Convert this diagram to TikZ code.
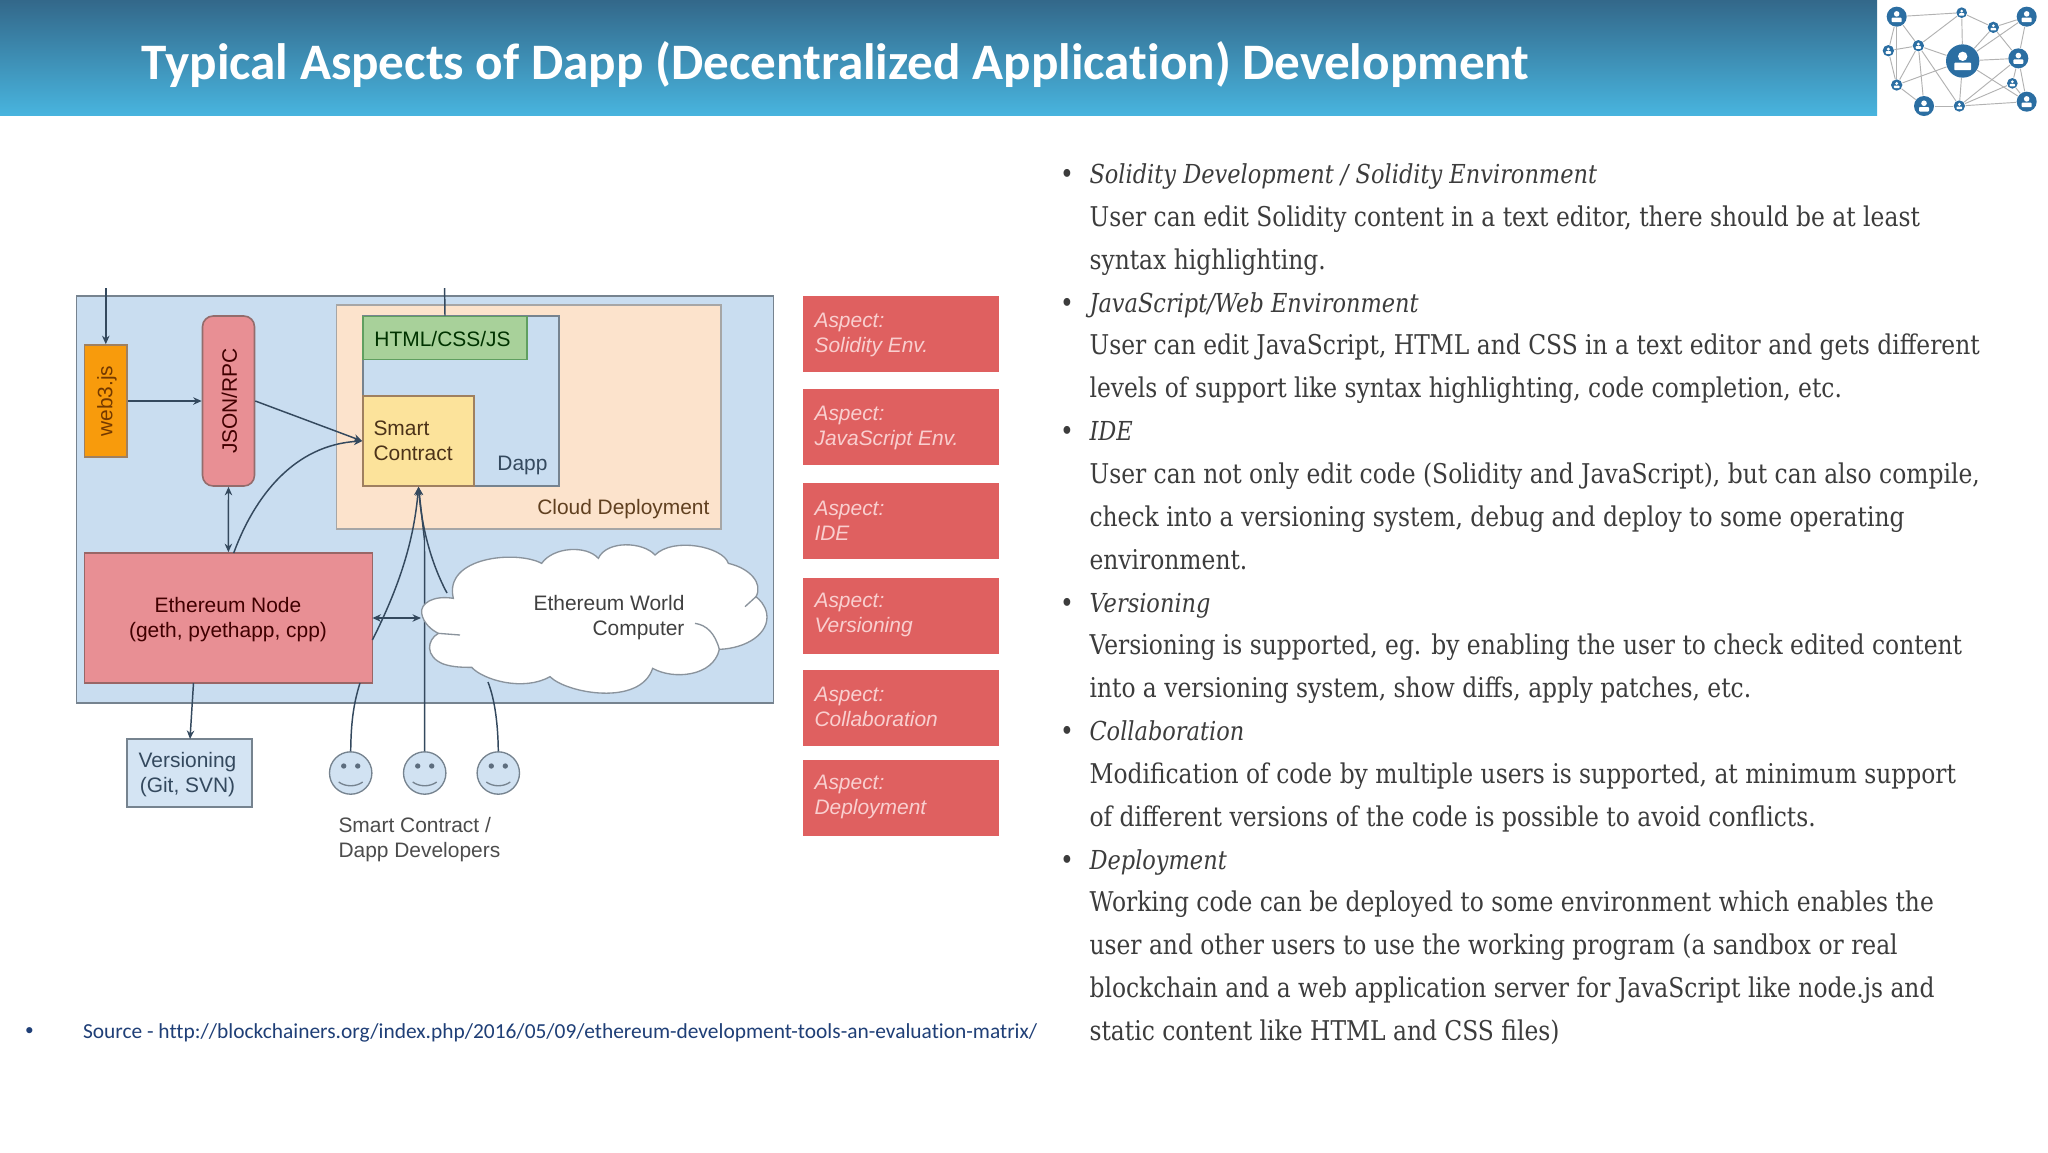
\documentclass[tikz,border=0pt]{standalone}
\usepackage{fontspec}
\usetikzlibrary{arrows.meta,calc}
\setmainfont{Liberation Sans}
\newfontfamily\titlefont[Ligatures=NoCommon]{Carlito}
\newfontfamily\rf[FakeStretch=0.86]{DejaVu Serif}
\definecolor{hdtop}{HTML}{33688A}
\definecolor{hdbot}{HTML}{48B4DE}
\definecolor{lineblue}{HTML}{34495E}
\definecolor{outerf}{HTML}{C9DDF0}
\definecolor{cloudf}{HTML}{FCE3CC}
\definecolor{htmlf}{HTML}{A8D19A}
\definecolor{scf}{HTML}{FCE39B}
\definecolor{ethf}{HTML}{E88F94}
\definecolor{webf}{HTML}{F89B0C}
\definecolor{aspf}{HTML}{DF6060}
\definecolor{aspt}{HTML}{F9CFCF}
\definecolor{logob}{HTML}{2B6EA2}
\definecolor{srct}{HTML}{1F3F77}
\definecolor{bodyt}{HTML}{3C3C3C}
\definecolor{edgeg}{HTML}{76838F}
\definecolor{cloudg}{HTML}{8A939C}
\tikzset{
  sz/.style 2 args={minimum width=#1*0.375pt,minimum height=#2*0.375pt,inner sep=0pt},
  bx/.style={draw=#1,line width=0.6pt},
  lbl/.style={font=\fontsize{7.85}{9.4}\selectfont,inner sep=0pt},
  conn/.style={draw=lineblue,line width=0.55pt},
  tipend/.style={-{Stealth[length=3.2pt,width=2.8pt]}},
  tipboth/.style={{Stealth[length=3.2pt,width=2.8pt]}-{Stealth[length=3.2pt,width=2.8pt]}},
  aspect/.style={fill=aspf,sz={196}{76}},
  asptxt/.style={lbl,font=\fontsize{7.85}{9.4}\selectfont\itshape,text=aspt,align=left,anchor=west},
  face/.style={circle,draw=edgeg,line width=0.5pt,fill=outerf!85!white,minimum size=15.9pt,inner sep=0pt},
  rline/.style={anchor=base west,inner sep=0pt,text=bodyt,font=\rf\fontsize{10.2}{12}\selectfont},
  lognet/.style={draw=gray!60,line width=0.35pt},
}
\newcommand{\rl}[2]{\pgfmathsetmacro{\by}{183.5+42.85*#1}\node[rline] (r#1) at (1089,\by) {#2};}
\newcommand{\rh}[2]{\pgfmathsetmacro{\by}{183.5+42.85*#1}\node[rline,font=\rf\fontsize{9.8}{12}\selectfont\itshape] (r#1) at (1089,\by) {#2};}
\newcommand{\rb}[1]{\pgfmathsetmacro{\by}{183.5+42.85*#1}\node[rline,anchor=base] (b#1) at (1067,\by) {•};}
\begin{document}
\begin{tikzpicture}[x=0.375pt,y=-0.375pt]
\useasboundingbox (0,0) rectangle (2048,1152);
\fill[white] (0,0) rectangle (2048,1152);
% header
\shade[top color=hdtop,bottom color=hdbot] (0,0) rectangle (1877,115);
\node[anchor=base west,inner sep=0pt,text=white,font=\titlefont\bfseries\fontsize{19.19}{22}\selectfont] (title) at (141,79.5) {Typical Aspects of Dapp (Decentralized Application) Development};
% logo
\begin{scope}[shift={(1860,0)},x=0.125pt,y=-0.125pt]
\foreach \n/\xx/\yy/\rr in {a/110/50/30,b/305/38/16,c/400/82/17,d/500/50/30,e/175/137/17,f/85/152/17,g/475/175/30,h/110/255/17,i/457/250/16,j/192/318/30,k/298/318/17,l/500/305/30,m/308/183/50}{
  \node[circle,fill=logob,minimum size=\rr*0.25pt,inner sep=0pt] (L\n) at (\xx,\yy) {};
  \fill[white] (\xx,\yy-0.28*\rr) circle ({0.28*\rr*0.125pt});
  \fill[white,rounded corners=0.3pt] (\xx-0.5*\rr,\yy+0.1*\rr) rectangle (\xx+0.5*\rr,\yy+0.55*\rr);
}
\foreach \p/\q in {a/b,a/e,a/f,a/h,b/e,b/c,b/m,c/d,c/m,c/g,d/g,e/f,e/h,e/j,e/k,e/m,f/h,h/j,h/m,j/k,k/l,k/m,k/i,k/g,m/g,m/l,g/i,g/l,i/l,d/m}{
  \draw[lognet] (L\p) -- (L\q);
}
\end{scope}
% diagram boxes
\node[bx=edgeg,fill=outerf,sz={697}{407}] (outer) at (425,499.5) {};
\node[bx=gray!70,fill=cloudf,sz={384.5}{224}] (cloudep) at (528.7,417) {};
\node[bx=edgeg,fill=outerf,sz={196}{170}] (dapp) at (461,401) {};
\node[bx=green!25!gray,fill=htmlf,sz={164}{43}] (html) at (445,338) {};
\node[bx=brown!50!gray,fill=scf,sz={111}{90}] (sc) at (418.5,441) {};
\node[bx=brown!50!gray,fill=webf,rotate=90,sz={112}{42.5}] (web) at (105.8,401) {};
\node[bx=red!15!gray,fill=ethf,rounded corners=4pt,rotate=90,sz={170}{52}] (json) at (228.5,401) {};
\node[bx=red!20!gray,fill=ethf,sz={288}{130}] (eth) at (228.4,618) {};
\node[bx=edgeg,fill=outerf!80!white,sz={125}{68}] (vers) at (189.5,773) {};
\node[face] (s1) at (350.7,773) {};
\node[face] (s2) at (424.7,773) {};
\node[face] (s3) at (498.3,773) {};
\foreach \s in {s1,s2,s3}{
  \fill[lineblue!80] ($(\s)+(-7,-7)$) circle (1pt);
  \fill[lineblue!80] ($(\s)+(7,-7)$) circle (1pt);
  \draw[edgeg,line width=0.5pt] ($(\s)+(-12,9)$) .. controls ($(\s)+(-5,14)$) and ($(\s)+(5,14)$) .. ($(\s)+(12,9)$);
}
% connector end points
\coordinate (webtop) at (105.8,288);
\coordinate (htmltop) at (444.6,288);
\coordinate (ethtopc) at (233.7,553);
\coordinate (ethrc) at (372.4,640);
\coordinate (cloudc) at (447,593);
\coordinate (ethb1) at (193.5,683);
\coordinate (ethb2) at (360,683);
\coordinate (cloudb) at (488,682);
\coordinate (ethr) at (372.4,618);
\coordinate (cloudl) at (421,618);
\coordinate (versin) at (190,739);
% connectors
\draw[conn,tipend] (webtop) -- (web.east);
\draw[conn,tipend] (web.south) -- (json.north);
\draw[conn,tipend] (json.south) -- (sc.west);
\draw[conn,tipboth] (json.west) -- (eth.north);
\draw[conn,tipend] (ethtopc) .. controls (255,495) and (295,445) .. (sc.west);
\draw[conn] (htmltop) -- (html.north);
\draw[conn,tipend] (ethrc) .. controls (400,585) and (414,540) .. (sc.south);
\draw[conn,tipend] (s2.north) -- (424.5,540) -- (sc.south);
\draw[conn,tipend] (cloudc) .. controls (432,565) and (422,530) .. (sc.south);
\draw[conn,tipboth] (ethr) -- (cloudl);
\draw[conn,tipend] (ethb1) -- (versin);
\draw[conn] (s1.north) .. controls (351,725) and (353,705) .. (ethb2);
\draw[conn] (s3.north) .. controls (498,725) and (495,700) .. (cloudb);
% cloud
\begin{scope}[shift={(300,520)},x=0.125pt,y=-0.125pt]
\draw[fill=white,draw=cloudg,line width=0.5pt] (460,235)
 .. controls (400,225) and (360,250) .. (365,280)
 .. controls (370,310) and (395,330) .. (415,340)
 .. controls (380,360) and (375,410) .. (430,432)
 .. controls (460,442) and (490,442) .. (515,442)
 .. controls (550,480) and (670,515) .. (750,470)
 .. controls (800,520) and (1020,560) .. (1058,445)
 .. controls (1120,480) and (1240,470) .. (1258,388)
 .. controls (1340,385) and (1410,340) .. (1400,280)
 .. controls (1395,255) and (1380,240) .. (1368,230)
 .. controls (1390,190) and (1350,145) .. (1285,130)
 .. controls (1270,80) and (1120,50) .. (1065,105)
 .. controls (1030,65) and (920,60) .. (895,115)
 .. controls (860,75) and (760,80) .. (725,130)
 .. controls (650,90) and (430,110) .. (460,235) -- cycle;
\draw[cloudg,line width=0.5pt] (1335,260) -- (1368,230);
\draw[cloudg,line width=0.5pt] (1185,310) .. controls (1220,315) and (1245,340) .. (1258,388);
\draw[cloudg,line width=0.5pt] (415,340) -- (480,345);
\end{scope}
% labels
\node[lbl,rotate=90,text=orange!45!black] (webt) at (107,401) {web3.js};
\node[lbl,rotate=90,text=red!25!black] (jsont) at (229.5,401) {JSON/RPC};
\node[lbl,text=green!20!black] (htmlt) at (442.5,339) {HTML/CSS/JS};
\node[lbl,align=left,anchor=west,text=brown!40!black] (sct) at (373,440.5) {Smart\\Contract};
\node[lbl,text=lineblue] (dappt) at (522.5,465) {Dapp};
\node[lbl,anchor=east,text=brown!50!black] (cdt) at (710,509) {Cloud Deployment};
\node[lbl,align=center,text=red!25!black] (etht) at (228,619.5) {Ethereum Node\\(geth, pyethapp, cpp)};
\node[lbl,align=right,anchor=east,text=black!75] (cloudt) at (685,618) {Ethereum World\\Computer};
\node[lbl,align=center,text=lineblue] (verst) at (187.5,775) {Versioning\\(Git, SVN)};
\node[lbl,align=left,anchor=west,text=black!70] (devt) at (338,840) {Smart Contract /\\Dapp Developers};
% aspects
\node[aspect] (a1) at (901,334) {};
\node[aspect] (a2) at (901,427) {};
\node[aspect] (a3) at (901,521) {};
\node[aspect] (a4) at (901,616) {};
\node[aspect] (a5) at (901,708) {};
\node[aspect] (a6) at (901,798) {};
\node[asptxt] (at1) at (814,334.5) {Aspect:\\Solidity Env.};
\node[asptxt] (at2) at (814,427.5) {Aspect:\\JavaScript Env.};
\node[asptxt] (at3) at (814,520.5) {Aspect:\\IDE};
\node[asptxt] (at4) at (814,614.5) {Aspect:\\Versioning};
\node[asptxt] (at5) at (814,706.5) {Aspect:\\Collaboration};
\node[asptxt] (at6) at (814,797) {Aspect:\\Deployment};
% source
\node[anchor=base,inner sep=0pt,text=srct,font=\titlefont\fontsize{6.5}{10}\selectfont] (srcb) at (29.5,1035) {•};
\node[anchor=base west,inner sep=0pt,text=srct,font=\titlefont\fontsize{8.03}{10}\selectfont] (src) at (82.5,1038.5) {Source - http://blockchainers.org/index.php/2016/05/09/ethereum-development-tools-an-evaluation-matrix/};
% right text
\rb{0}\rb{3}\rb{6}\rb{10}\rb{13}\rb{16}
\rh{0}{Solidity Development / Solidity Environment}
\rl{1}{User can edit Solidity content in a text editor, there should be at least}
\rl{2}{syntax highlighting.}
\rh{3}{JavaScript/Web Environment}
\rl{4}{User can edit JavaScript, HTML and CSS in a text editor and gets different}
\rl{5}{levels of support like syntax highlighting, code completion, etc.}
\rh{6}{IDE}
\rl{7}{User can not only edit code (Solidity and JavaScript), but can also compile,}
\rl{8}{check into a versioning system, debug and deploy to some operating}
\rl{9}{environment.}
\rh{10}{Versioning}
\rl{11}{Versioning is supported, eg. by enabling the user to check edited content}
\rl{12}{into a versioning system, show diffs, apply patches, etc.}
\rh{13}{Collaboration}
\rl{14}{Modification of code by multiple users is supported, at minimum support}
\rl{15}{of different versions of the code is possible to avoid conflicts.}
\rh{16}{Deployment}
\rl{17}{Working code can be deployed to some environment which enables the}
\rl{18}{user and other users to use the working program (a sandbox or real}
\rl{19}{blockchain and a web application server for JavaScript like node.js and}
\rl{20}{static content like HTML and CSS files)}
\end{tikzpicture}
\end{document}
